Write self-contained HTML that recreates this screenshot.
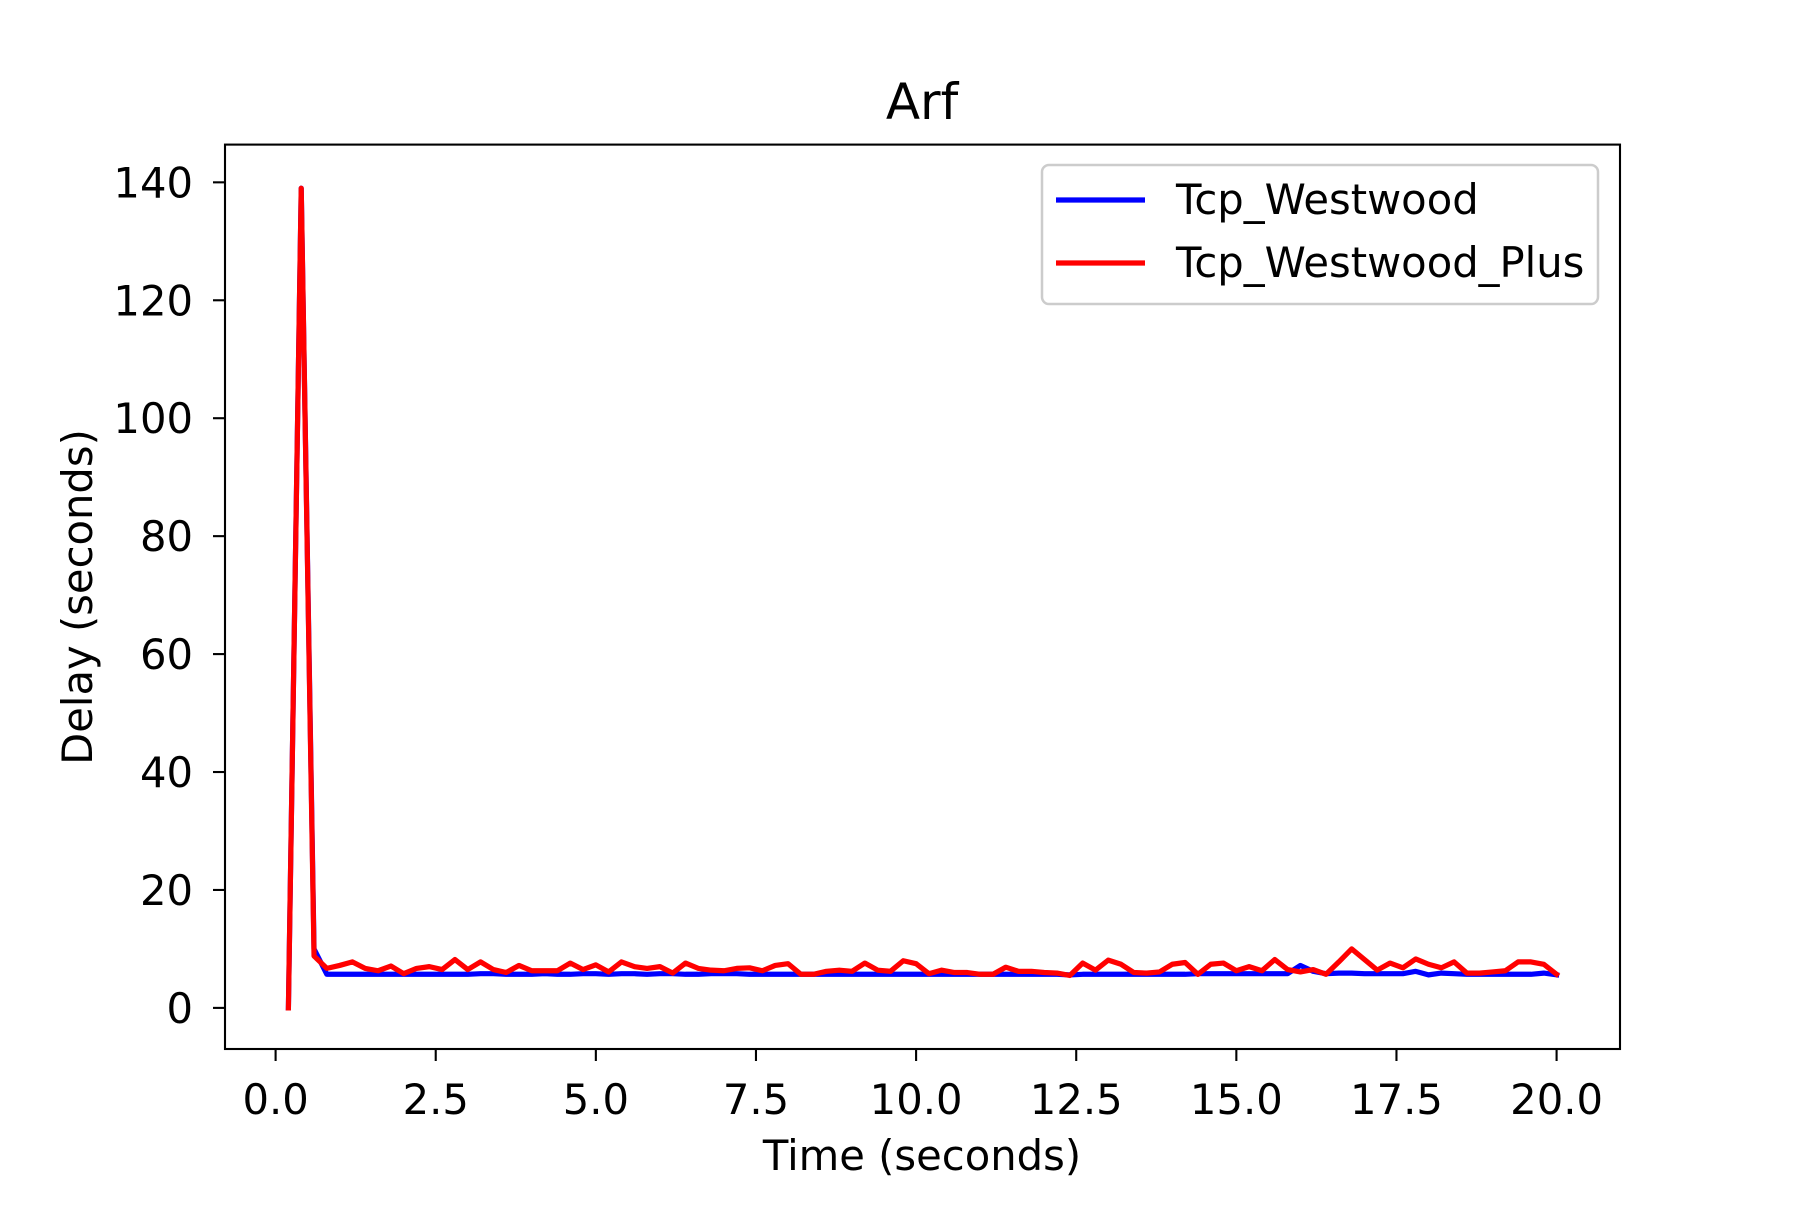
<!DOCTYPE html>
<html><head><meta charset="utf-8"><style>
html,body{margin:0;padding:0;background:#fff}
svg text{font-family:"DejaVu Sans","Liberation Sans",sans-serif;fill:#000}
</style></head><body>
<svg id="chart" width="1800" height="1200" viewBox="0 0 1800 1200" xmlns="http://www.w3.org/2000/svg">
<rect x="0" y="0" width="1800" height="1200" fill="#fff"/>
<text x="922" y="119" font-size="50" text-anchor="middle">Arf</text>
<g id="plot"></g>
<rect x="225" y="144.6" width="1395" height="904.4" fill="none" stroke="#000" stroke-width="2.1"/>
<g id="xt"></g><g id="yt"></g>
<text x="922" y="1170" font-size="41.7" text-anchor="middle">Time (seconds)</text>
<text transform="translate(92,597) rotate(-90)" font-size="41.7" text-anchor="middle">Delay (seconds)</text>
<g>
<rect x="1042" y="165" width="556" height="139" rx="7" fill="#fff" fill-opacity="0.8" stroke="#ccc" stroke-width="2.5"/>
<line x1="1056" y1="200" x2="1145" y2="200" stroke="#0000ff" stroke-width="5.2"/>
<text x="1176" y="214" font-size="41.7">Tcp_Westwood</text>
<line x1="1056" y1="263" x2="1145" y2="263" stroke="#ff0000" stroke-width="5.2"/>
<text x="1176" y="277" font-size="41.7">Tcp_Westwood_Plus</text>
</g>
</svg>
<script>
const times = Array.from({length:100},(_,i)=>+(0.2+0.2*i).toFixed(1));
const westwood = [0,139,10,5.7,5.7,5.7,5.7,5.7,5.7,5.7,5.7,5.7,5.7,5.7,5.7,5.8,5.8,5.7,5.7,5.7,5.8,5.7,5.7,5.8,5.8,5.7,5.8,5.8,5.7,5.8,5.8,5.7,5.7,5.8,5.8,5.8,5.7,5.7,5.7,5.7,5.7,5.7,5.7,5.7,5.7,5.7,5.7,5.7,5.7,5.7,5.7,5.7,5.7,5.7,5.7,5.7,5.7,5.7,5.7,5.7,5.7,5.6,5.7,5.7,5.7,5.7,5.7,5.7,5.7,5.7,5.7,5.8,5.8,5.8,5.8,5.8,5.8,5.8,5.8,7.2,6.2,5.8,5.9,5.9,5.8,5.8,5.8,5.8,6.2,5.6,5.9,5.8,5.7,5.7,5.7,5.7,5.7,5.7,5.9,5.6];
const westwoodPlus = [0,139,8.8,6.7,7.2,7.8,6.7,6.3,7.1,5.8,6.7,7,6.5,8.2,6.5,7.8,6.5,6,7.2,6.3,6.3,6.3,7.6,6.5,7.3,6.1,7.8,7,6.7,7,5.9,7.6,6.7,6.4,6.3,6.7,6.8,6.3,7.2,7.5,5.7,5.7,6.2,6.4,6.2,7.6,6.4,6.2,8,7.5,5.8,6.4,6,6,5.7,5.7,6.9,6.2,6.2,6,5.9,5.5,7.6,6.4,8.1,7.4,6,5.9,6.1,7.4,7.7,5.7,7.4,7.6,6.3,7,6.3,8.2,6.5,6.1,6.5,5.7,7.8,10,8.2,6.4,7.6,6.8,8.3,7.4,6.8,7.8,5.9,5.9,6.1,6.3,7.8,7.8,7.4,5.7];
const xTicks = [0,2.5,5,7.5,10,12.5,15,17.5,20];
const xTickLabels = ["0.0","2.5","5.0","7.5","10.0","12.5","15.0","17.5","20.0"];
const yTicks = [0,20,40,60,80,100,120,140];

const NS="http://www.w3.org/2000/svg";
const L=225,R=1620,T=144.6,B=1049;
const xmin=-0.79,xmax=20.99,ymin=-6.97,ymax=146.4;
function X(v){return L+(v-xmin)/(xmax-xmin)*(R-L);}
function Y(v){return B-(v-ymin)/(ymax-ymin)*(B-T);}
function mk(t,a){const e=document.createElementNS(NS,t);for(const k in a)e.setAttribute(k,a[k]);return e;}
const plot=document.getElementById('plot');
function series(vals,color,name){
  const p=mk('polyline',{points:vals.map((v,i)=>X(times[i])+','+Y(v)).join(' '),fill:'none',stroke:color,'stroke-width':5.2,'stroke-linejoin':'round','stroke-linecap':'square'});
  
  
  plot.appendChild(p);
}
series(westwood,'#0000ff','westwood-line');
series(westwoodPlus,'#ff0000','westwood-plus-line');
const xt=document.getElementById('xt');
xTicks.forEach((v,i)=>{
  const l=mk('line',{x1:X(v),x2:X(v),y1:B,y2:B+12,stroke:'#000','stroke-width':2.1});
  
  
  xt.appendChild(l);
  const t=mk('text',{x:X(v),y:B+65,'font-size':41.7,'text-anchor':'middle'});
  t.textContent=xTickLabels[i];
  
  
  xt.appendChild(t);
});
const yt=document.getElementById('yt');
yTicks.forEach(v=>{
  const l=mk('line',{x1:L-12,x2:L,y1:Y(v),y2:Y(v),stroke:'#000','stroke-width':2.1});
  
  
  yt.appendChild(l);
  const t=mk('text',{x:L-32,y:Y(v)+15,'font-size':41.7,'text-anchor':'end'});
  t.textContent=String(v);
  
  
  yt.appendChild(t);
});
</script>
</body></html>
